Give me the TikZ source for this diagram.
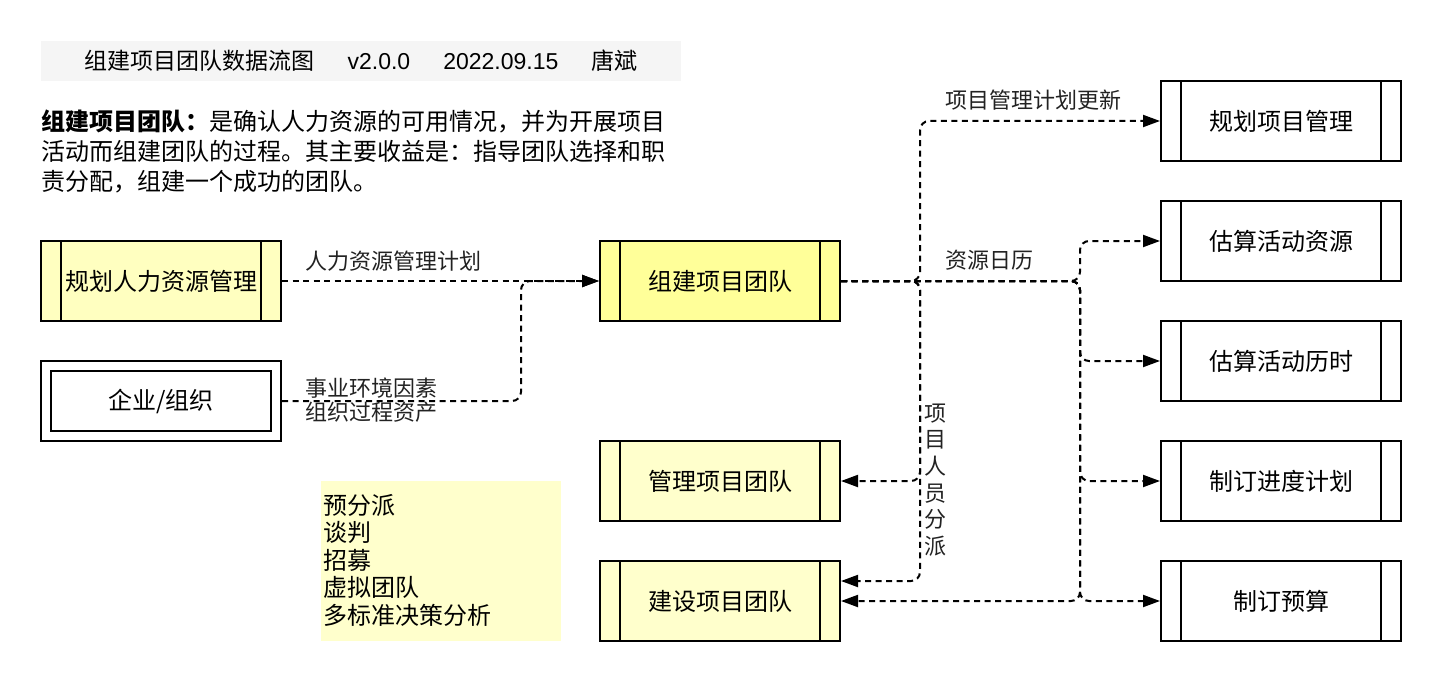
\documentclass[tikz,border=0pt]{standalone}
\usepackage{fontspec}
\setmainfont{Noto Sans CJK SC}
\newfontfamily\lat{Liberation Sans}
\usetikzlibrary{arrows.meta,calc}
\definecolor{ylw}{HTML}{FFFF99}
\definecolor{ylwb}{HTML}{FFFFC0}
\definecolor{ylwc}{HTML}{FFFFCC}
\definecolor{titlebg}{HTML}{F5F5F5}
\definecolor{lbl}{HTML}{222222}
\tikzset{
  proc/.style={draw, line width=2pt, minimum width=240pt, minimum height=80pt, inner sep=0pt,
    font=\fontsize{24}{28}\selectfont,
    path picture={
      \draw[line width=2pt] ([xshift=20pt]path picture bounding box.north west) -- ([xshift=20pt]path picture bounding box.south west);
      \draw[line width=2pt] ([xshift=-20pt]path picture bounding box.north east) -- ([xshift=-20pt]path picture bounding box.south east);}},
  extent/.style={draw, line width=2pt, minimum width=240pt, minimum height=80pt, inner sep=0pt,
    font=\fontsize{24}{28}\selectfont,
    path picture={
      \draw[line width=2pt] ([shift={(10pt,-10pt)}]path picture bounding box.north west) rectangle ([shift={(-10pt,10pt)}]path picture bounding box.south east);}},
  flow/.style={line width=2pt, dash pattern=on 6pt off 4.5pt, rounded corners=9pt,
    -{Triangle[length=17pt,width=12pt]}},
  lab/.style={font=\fontsize{22}{26}\selectfont, text=lbl, inner sep=0pt},
}
\begin{document}
\begin{tikzpicture}[x=1pt,y=-1pt]
\useasboundingbox (0,0) rectangle (1442,682);
% title
\node[fill=titlebg, minimum width=640pt, minimum height=40pt, inner sep=0pt,
  font=\fontsize{23}{27}\selectfont] (title) at (361,61)
  {组建项目团队数据流图\hspace{33pt}{\lat v2.0.0}\hspace{33pt}{\lat 2022.09.15}\hspace{33pt}唐斌};
% description
\node[anchor=west, align=left, inner sep=0pt, font=\fontsize{24}{30}\selectfont] (desc) at (41,151)
  {\textbf{组建项目团队：}是确认人力资源的可用情况，并为开展项目\\活动而组建团队的过程。其主要收益是：指导团队选择和职\\责分配，组建一个成功的团队。};
% left
\node[proc, fill=ylwb] (gr) at (161,281) {规划人力资源管理};
\node[extent] (qy) at (161,401) {企业/组织};
% middle
\node[proc, fill=ylw] (zj) at (720,281) {组建项目团队};
\node[proc, fill=ylwc] (gl) at (720,481) {管理项目团队};
\node[proc, fill=ylwc] (js) at (720,601) {建设项目团队};
% tools
\node[fill=ylwc, minimum width=240pt, minimum height=160pt, inner sep=0pt] (toolbg) at (441,561) {};
\node[anchor=west, align=left, inner sep=0pt, font=\fontsize{24}{27.5}\selectfont] (tools) at (323,560)
  {预分派\\谈判\\招募\\虚拟团队\\多标准决策分析};
% right
\node[proc] (gh) at (1281,121) {规划项目管理};
\node[proc] (gz) at (1281,241) {估算活动资源};
\node[proc] (gs) at (1281,361) {估算活动历时};
\node[proc] (zd) at (1281,481) {制订进度计划};
\node[proc] (ys) at (1281,601) {制订预算};
% trunks
\coordinate (t0) at (521,401);
\coordinate (t1) at (920,281);
\coordinate (t2) at (1080,281);
% edges
\draw[flow] (gr.east) -- (zj.west);
\draw[flow] (qy.east) -- (t0) |- (zj.west);
\draw[flow] (zj.east) -- (t1) |- (gh.west);
\draw[flow] (zj.east) -- (t1) |- (gl.east);
\draw[flow] (zj.east) -- (t1) |- ([yshift=20pt]js.east);
\draw[flow] (zj.east) -- (t2) |- (gz.west);
\draw[flow] (zj.east) -- (t2) |- (gs.west);
\draw[flow] (zj.east) -- (t2) |- (zd.west);
\draw[flow] (zj.east) -- (t2) |- (ys.west);
\draw[flow] (zj.east) -- (t2) |- (js.east);
% labels
\node[lab, anchor=west] (l1) at (305,261) {人力资源管理计划};
\node[lab, anchor=west, align=left, font=\fontsize{22}{24}\selectfont] (l2) at (305,400) {事业环境因素\\组织过程资产};
\node[lab, anchor=west] (l3) at (945,100) {项目管理计划更新};
\node[lab, anchor=west] (l4) at (945,260) {资源日历};
\node[lab, align=center, font=\fontsize{22}{26.6}\selectfont] (l5) at (935,480) {项\\目\\人\\员\\分\\派};
\end{tikzpicture}
\end{document}
